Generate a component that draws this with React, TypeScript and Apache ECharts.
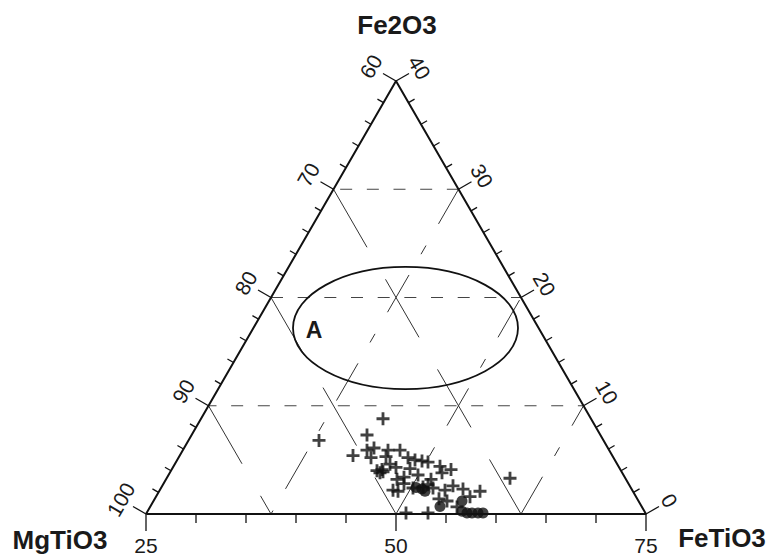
import React, { useEffect, useRef } from "react";
import * as echarts from "echarts";

// Ternary axis ranges (bottom: 25..75, Fe2O3 height: 0..40)
const bottomTicks = [25, 30, 35, 40, 45, 50, 55, 60, 65, 70, 75];
const bottomLabels = [25, 50, 75];
const sideTicks = [0, 2, 4, 6, 8, 10, 12, 14, 16, 18, 20, 22, 24, 26, 28, 30, 32, 34, 36, 38, 40];
const sideLabelLevels = [0, 10, 20, 30, 40];
const gridLevels = [10, 20, 30];
const hDashOffsets = [3.5, 0, 20];
const upDashOffsets = [0, 0, 73];

// Data points: [bottom-axis value, Fe2O3]
const plusPoints = [
  [48.7, 8.8], [42.3, 6.8], [47.1, 7.3], [45.7, 5.4], [47.1, 5.9], [47.8, 6.1],
  [47.5, 5.2], [49.2, 5.9], [49.0, 5.3], [50.4, 5.9], [49.4, 4.6], [51.2, 5.2],
  [51.9, 5.0], [52.6, 4.9], [53.2, 4.8], [51.4, 4.2], [54.4, 4.4], [55.5, 4.1],
  [54.6, 3.8], [48.1, 4.0], [48.4, 3.8], [48.7, 3.9], [50.1, 3.2], [50.8, 3.4],
  [50.8, 2.8], [49.7, 2.2], [50.2, 2.1], [51.7, 2.4], [53.5, 3.2], [53.2, 2.7],
  [52.7, 2.5], [53.7, 2.4], [55.7, 2.6], [54.9, 2.2], [56.7, 2.3], [58.4, 2.1],
  [61.4, 3.3], [54.3, 1.4], [55.1, 1.2], [57.4, 1.6], [56.1, 0.65], [51.0, 0.1],
  [53.2, 0.1], [48.6, 4.1], [50.0, 4.3], [52.2, 3.6]
];
const circlePoints = [
  [52.0, 2.45], [52.6, 2.3], [52.9, 2.1], [54.4, 0.7], [56.6, 1.2], [56.6, 0.25],
  [57.1, 0.1], [57.6, 0.1], [58.2, 0.1], [58.7, 0.1]
];
// Field "A" ellipse: centre and semi-axes in data units
const fieldA = { name: "A", cx: 50.95, cy: 17.18, rx: 11.25, ry: 5.64, labelX: 41.8, labelY: 17.0 };

const leftSide = (f: number) => [25 + (25 * f) / 40, f];
const rightSide = (f: number) => [75 - (25 * f) / 40, f];

export default function App() {
  const ref = useRef<HTMLDivElement>(null);
  useEffect(() => {
    if (!ref.current) return;
    const chart = echarts.init(ref.current, undefined, { renderer: "svg" });
    const ink = "#111";
    const series: any[] = [];
    gridLevels.forEach((f, i) => {
      series.push({
        type: "line", data: [leftSide(f), rightSide(f)], symbol: "none", silent: true,
        lineStyle: { color: "#444", width: 1, type: [12, 14.67], dashOffset: hDashOffsets[i] }, z: 1,
      });
      series.push({
        type: "line", data: [leftSide(f), [25 + (50 * f) / 40, 0]], symbol: "none", silent: true,
        lineStyle: { color: "#333", width: 1, type: [67, 37], dashOffset: 0 }, z: 1,
      });
      series.push({
        type: "line", data: [[75 - (50 * f) / 40, 0], rightSide(f)], symbol: "none", silent: true,
        lineStyle: { color: "#333", width: 1, type: [43, 24, 10, 25], dashOffset: upDashOffsets[i] }, z: 1,
      });
    });
    series.push({
      type: "line", data: [[25, 0], [75, 0], [50, 40], [25, 0]], symbol: "none", silent: true,
      lineStyle: { color: ink, width: 2 }, z: 3,
    });
    series.push({
      type: "scatter", data: plusPoints, symbol: "path://M0,4.7H12V7.3H0ZM4.7,0H7.3V12H4.7Z", symbolSize: 13,
      itemStyle: { color: ink }, silent: true, z: 5,
    });
    series.push({
      type: "scatter", data: circlePoints, symbol: "circle", symbolSize: 11,
      itemStyle: { color: ink }, silent: true, z: 6,
    });
    chart.setOption({
      animation: false,
      grid: { left: 146, top: 81, width: 500, height: 433 },
      xAxis: { type: "value", min: 25, max: 75, show: false },
      yAxis: { type: "value", min: 0, max: 40, show: false },
      series,
    });

    const px = (p: number[]) => chart.convertToPixel({ gridIndex: 0 }, p) as number[];
    const g: any[] = [];
    const tick = (x1: number, y1: number, x2: number, y2: number) =>
      g.push({ type: "line", shape: { x1, y1, x2, y2 }, style: { stroke: ink, lineWidth: 1.3 }, silent: true });
    const label = (text: string, x: number, y: number, rotation: number, font = '21px "Liberation Sans", Arial, sans-serif') =>
      g.push({
        type: "text", x, y, rotation, silent: true,
        style: { text, font, fill: "#1a1a1a", align: "center", verticalAlign: "middle" },
      });

    bottomTicks.forEach((v) => {
      const p = px([v, 0]);
      const len = bottomLabels.includes(v) ? 17 : 9;
      tick(p[0], p[1], p[0], p[1] + len);
    });
    bottomLabels.forEach((v) => {
      const p = px([v, 0]);
      label(String(v), p[0], p[1] + 31, 0);
    });
    const c = Math.cos(Math.PI / 6), s = Math.sin(Math.PI / 6);
    sideTicks.forEach((f) => {
      const major = sideLabelLevels.includes(f);
      const len = major ? 15 : 7;
      const pl = px(leftSide(f));
      tick(pl[0], pl[1], pl[0] - c * len, pl[1] - s * len);
      const pr = px(rightSide(f));
      tick(pr[0], pr[1], pr[0] + c * len, pr[1] - s * len);
    });
    sideLabelLevels.forEach((f) => {
      const pl = px(leftSide(f));
      label(String(100 - f), pl[0] - c * 29, pl[1] - s * 29, Math.PI / 3);
      const pr = px(rightSide(f));
      label(String(f), pr[0] + c * 27, pr[1] - s * 27, -Math.PI / 3);
    });

    const ec = px([fieldA.cx, fieldA.cy]);
    const ex = px([fieldA.cx + fieldA.rx, fieldA.cy + fieldA.ry]);
    g.push({
      type: "ellipse", silent: true,
      shape: { cx: ec[0], cy: ec[1], rx: Math.abs(ex[0] - ec[0]), ry: Math.abs(ex[1] - ec[1]) },
      style: { fill: "none", stroke: ink, lineWidth: 1.8 }, z: 10,
    });
    const la = px([fieldA.labelX, fieldA.labelY]);
    label(fieldA.name, la[0], la[1], 0, 'bold 23px "Liberation Sans", Arial, sans-serif');

    const titleFont = 'bold 26px "Liberation Sans", Arial, sans-serif';
    label("Fe2O3", 397, 25, 0, titleFont);
    label("MgTiO3", 60, 540, 0, titleFont);
    label("FeTiO3", 722, 538, 0, titleFont);

    chart.setOption({ graphic: g });
    return () => chart.dispose();
  }, []);
  return <div ref={ref} style={{ position: "fixed", left: 0, top: 0, width: 770, height: 557, background: "#fff" }} />;
}
